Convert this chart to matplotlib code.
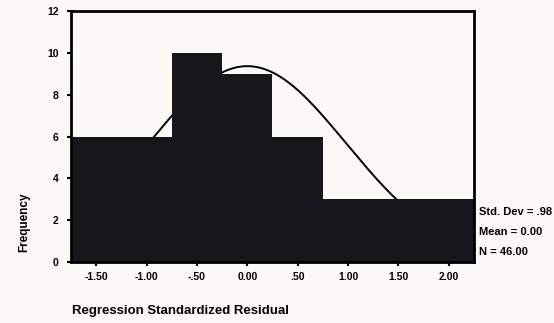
"""
Histogram of regression standardized residuals with normal curve (SPSS style)
"""

import matplotlib.pyplot as plt
import numpy as np

plt.rcParams['font.family'] = ['Liberation Sans', 'DejaVu Sans']

# histogram bins (centres) and counts
bin_centers = [-1.5, -1.0, -0.5, 0.0, 0.5, 1.0, 1.5, 2.0]
counts = [6, 6, 10, 9, 6, 3, 3, 3]
tick_labels = ['-1.50', '-1.00', '-.50', '0.00', '.50', '1.00', '1.50', '2.00']
bin_width = 0.5

# summary stats shown on the right
std_dev = 0.98
mean = 0.00
n_obs = 46

bar_color = '#17161d'

fig = plt.figure(figsize=(5.54, 3.23), dpi=100)
fig.patch.set_facecolor('#fbf9f6')
ax = fig.add_axes([71 / 554, 61 / 323, 403 / 554, 251 / 323])
ax.set_facecolor('none')

ax.bar(bin_centers, counts, width=bin_width, color=bar_color, linewidth=0, zorder=3)

# normal curve from the stats, sits behind the bars
xs = np.linspace(-1.75, 2.25, 400)
scale = n_obs * bin_width / (std_dev * np.sqrt(2 * np.pi))
ax.plot(xs, scale * np.exp(-0.5 * ((xs - mean) / std_dev) ** 2), color='black', lw=1.4, zorder=2)

ax.set_xlim(-1.75, 2.25)
ax.set_ylim(0, 12)
ax.set_xticks(bin_centers)
ax.set_xticklabels(tick_labels)
ax.set_yticks(range(0, 13, 2))

for s in ax.spines.values():
    s.set_linewidth(2)
    s.set_color('black')
    s.set_zorder(4)

ax.tick_params(axis='both', direction='out', length=3, width=1.5, labelsize=7.5)
ax.tick_params(axis='x', pad=4)
ax.tick_params(axis='y', pad=6)
for lab in ax.get_xticklabels() + ax.get_yticklabels():
    lab.set_fontweight('bold')

ax.set_ylabel('Frequency', fontsize=8.5, fontweight='bold')
ax.yaxis.set_label_coords(-0.1, 0.16)

fig.text(72 / 554, 1 - 311 / 323, 'Regression Standardized Residual', fontsize=9.5,
         fontweight='bold', ha='left', va='center')

stats = ['Std. Dev = %.2f' % std_dev, 'Mean = %.2f' % mean, 'N = %.2f' % n_obs]
stats[0] = stats[0].replace('0.', '.')
for i, t in enumerate(stats):
    fig.text(479 / 554, 1 - (212 + 20 * i) / 323, t, fontsize=8, fontweight='bold',
             ha='left', va='center')

plt.savefig('out.png', dpi=100, facecolor=fig.get_facecolor())
